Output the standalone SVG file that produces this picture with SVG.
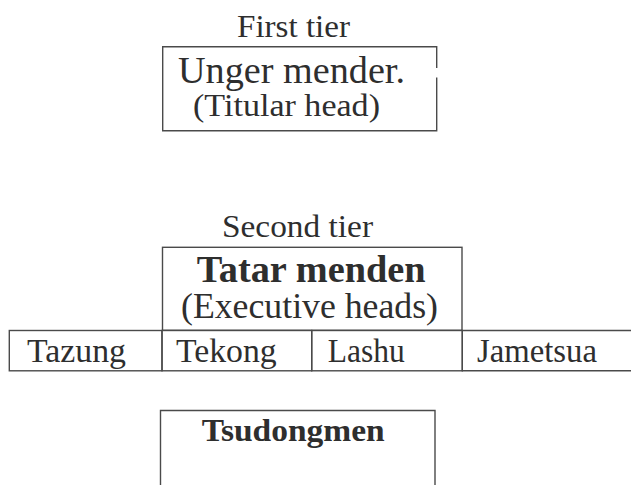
<svg xmlns="http://www.w3.org/2000/svg" width="631" height="485" viewBox="0 0 631 485">
<style>
.box{fill:none;stroke:#4a4a4a;stroke-width:1.4}
.t{font-family:"Liberation Serif","Times New Roman",serif;fill:#2e2e2e}
.b{font-weight:bold}
</style>
<rect width="631" height="485" fill="#ffffff"/>
<g id="first-tier">
<text class="t" x="237" y="36.5" font-size="32" textLength="113" lengthAdjust="spacingAndGlyphs">First tier</text>
<path class="box" d="M436.7,68 V46.7 H162.7 V130.7 H436.7 V77.5"/>
<text class="t" x="178" y="82.5" font-size="38" textLength="227" lengthAdjust="spacingAndGlyphs">Unger mender.</text>
<text class="t" x="193" y="116" font-size="32" textLength="187" lengthAdjust="spacingAndGlyphs">(Titular head)</text>
</g>
<g id="second-tier">
<text class="t" x="222" y="237" font-size="32" textLength="151" lengthAdjust="spacingAndGlyphs">Second tier</text>
<rect class="box" x="162.5" y="247.3" width="299.5" height="83"/>
<text class="t b" x="196.7" y="281.7" font-size="37" textLength="229" lengthAdjust="spacingAndGlyphs">Tatar menden</text>
<text class="t" x="181" y="318" font-size="35" textLength="257" lengthAdjust="spacingAndGlyphs">(Executive heads)</text>
</g>
<g id="tazung">
<rect class="box" x="9.3" y="330.5" width="152.7" height="40.3"/>
<text class="t" x="27" y="361.7" font-size="33" textLength="99" lengthAdjust="spacingAndGlyphs">Tazung</text>
</g>
<g id="tekong">
<rect class="box" x="162" y="330.5" width="149.7" height="40.3"/>
<text class="t" x="176" y="361.7" font-size="33" textLength="100.7" lengthAdjust="spacingAndGlyphs">Tekong</text>
</g>
<g id="lashu">
<rect class="box" x="311.7" y="330.5" width="150.6" height="40.3"/>
<text class="t" x="327.7" y="361.7" font-size="33" textLength="77" lengthAdjust="spacingAndGlyphs">Lashu</text>
</g>
<g id="jametsua">
<path class="box" d="M633,330.5 H462.3 V370.8 H633"/>
<text class="t" x="477" y="361.7" font-size="33" textLength="120" lengthAdjust="spacingAndGlyphs">Jametsua</text>
</g>
<g id="tsudongmen">
<path class="box" d="M160.5,490 V410.5 H435 V490"/>
<text class="t b" x="201.7" y="440.5" font-size="31" textLength="183" lengthAdjust="spacingAndGlyphs">Tsudongmen</text>
</g>
<g id="connectors"></g>
</svg>
